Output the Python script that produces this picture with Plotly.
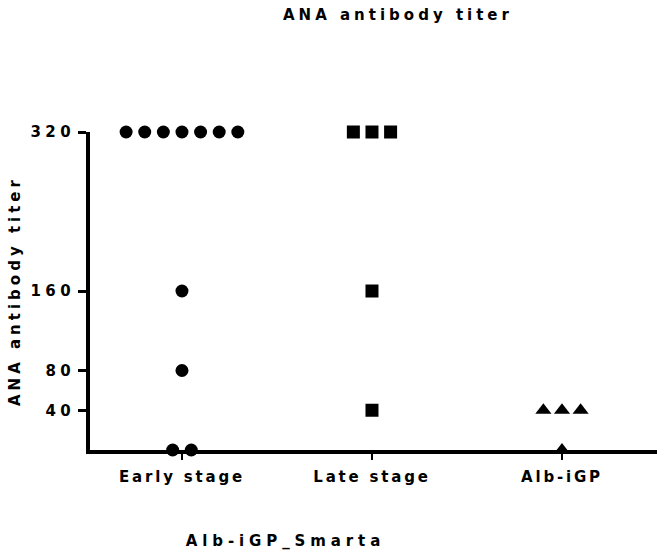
import plotly.graph_objects as go

# ---- data ----
categories = ["Early stage", "Late stage", "Alb-iGP"]
early_stage = [320, 320, 320, 320, 320, 320, 320, 160, 80, 0, 0]
late_stage = [320, 320, 320, 160, 40]
alb_igp = [40, 40, 40, 0]
y_tickvals = [40, 80, 160, 320]
y_ticktext = ["40", "80", "160", "320"]
title_text = "ANA antibody titer"
y_title_text = "ANA antibody titer"
x_title_text = "Alb-iGP_Smarta"

# ---- layout constants (pixels) ----
W, H = 657, 556
ML, MR, MT, MB = 90, 0, 132, 106
PW, PH = W - ML - MR, H - MT - MB
X_RANGE = [-0.484, 2.5]
Y_RANGE = [0, 320]
SPREAD = 0.098
FONT = "DejaVu Sans"


def spread_positions(cat_index, values):
    """Scatter-dot style horizontal spreading of tied values."""
    xs = []
    groups = {}
    for v in values:
        groups.setdefault(v, 0)
        groups[v] += 1
    seen = {}
    for v in values:
        n = groups[v]
        i = seen.get(v, 0)
        seen[v] = i + 1
        xs.append(cat_index + (i - (n - 1) / 2) * SPREAD)
    return xs


series = [
    (early_stage, "circle", 13),
    (late_stage, "square", 13),
    (alb_igp, "triangle-up", 14),
]

fig = go.Figure()
for idx, (vals, sym, size) in enumerate(series):
    fig.add_trace(go.Scatter(
        x=spread_positions(idx, vals),
        y=vals,
        mode="markers",
        marker=dict(symbol=sym, size=size, color="black", line=dict(width=0)),
        cliponaxis=False,
        showlegend=False,
        hoverinfo="skip",
    ))


def px_to_paper_x(px):
    return (px - ML) / PW


def px_to_paper_y(py):
    return (H - MB - py) / PH


fig.update_layout(
    width=W, height=H,
    margin=dict(l=ML, r=MR, t=MT, b=MB),
    paper_bgcolor="white", plot_bgcolor="white",
    font=dict(family=FONT, size=15, color="black", weight="bold"),
    xaxis=dict(
        range=X_RANGE,
        tickmode="array", tickvals=[0, 1, 2], ticktext=categories,
        showgrid=False, zeroline=False,
        showline=True, linecolor="black", linewidth=3.5,
        ticks="outside", ticklen=6, tickwidth=2, tickcolor="black",
        ticklabelstandoff=4,
        tickfont=dict(family=FONT, size=15, color="black", weight="bold"),
    ),
    yaxis=dict(
        range=Y_RANGE,
        tickmode="array", tickvals=y_tickvals, ticktext=y_ticktext,
        showgrid=False, zeroline=False,
        showline=True, linecolor="black", linewidth=3.5,
        ticks="outside", ticklen=8, tickwidth=3, tickcolor="black",
        ticklabelstandoff=0,
        tickfont=dict(family=FONT, size=15, color="black", weight="bold"),
    ),
    annotations=[
        dict(text=title_text, xref="paper", yref="paper",
             x=px_to_paper_x(398), y=px_to_paper_y(15),
             xanchor="center", yanchor="middle", showarrow=False,
             font=dict(family=FONT, size=15, color="black", weight="bold")),
        dict(text=x_title_text, xref="paper", yref="paper",
             x=px_to_paper_x(285), y=px_to_paper_y(541),
             xanchor="center", yanchor="middle", showarrow=False,
             font=dict(family=FONT, size=15, color="black", weight="bold")),
        dict(text=y_title_text, xref="paper", yref="paper",
             x=px_to_paper_x(15), y=px_to_paper_y(291),
             xanchor="center", yanchor="middle", showarrow=False,
             textangle=-90,
             font=dict(family=FONT, size=15, color="black", weight="bold")),
    ],
)

css = (
    ".annotation-text{letter-spacing:4px}"
    "g.annotation[data-index='1'] .annotation-text{letter-spacing:4.9px}"
    ".xtick text{letter-spacing:2.8px}"
    ".ytick text{letter-spacing:4.5px}"
)
post = ("var s=document.createElement('style');s.textContent=\"" + css +
        "\";document.head.appendChild(s);")

fig.write_html("out.html", post_script=post)
